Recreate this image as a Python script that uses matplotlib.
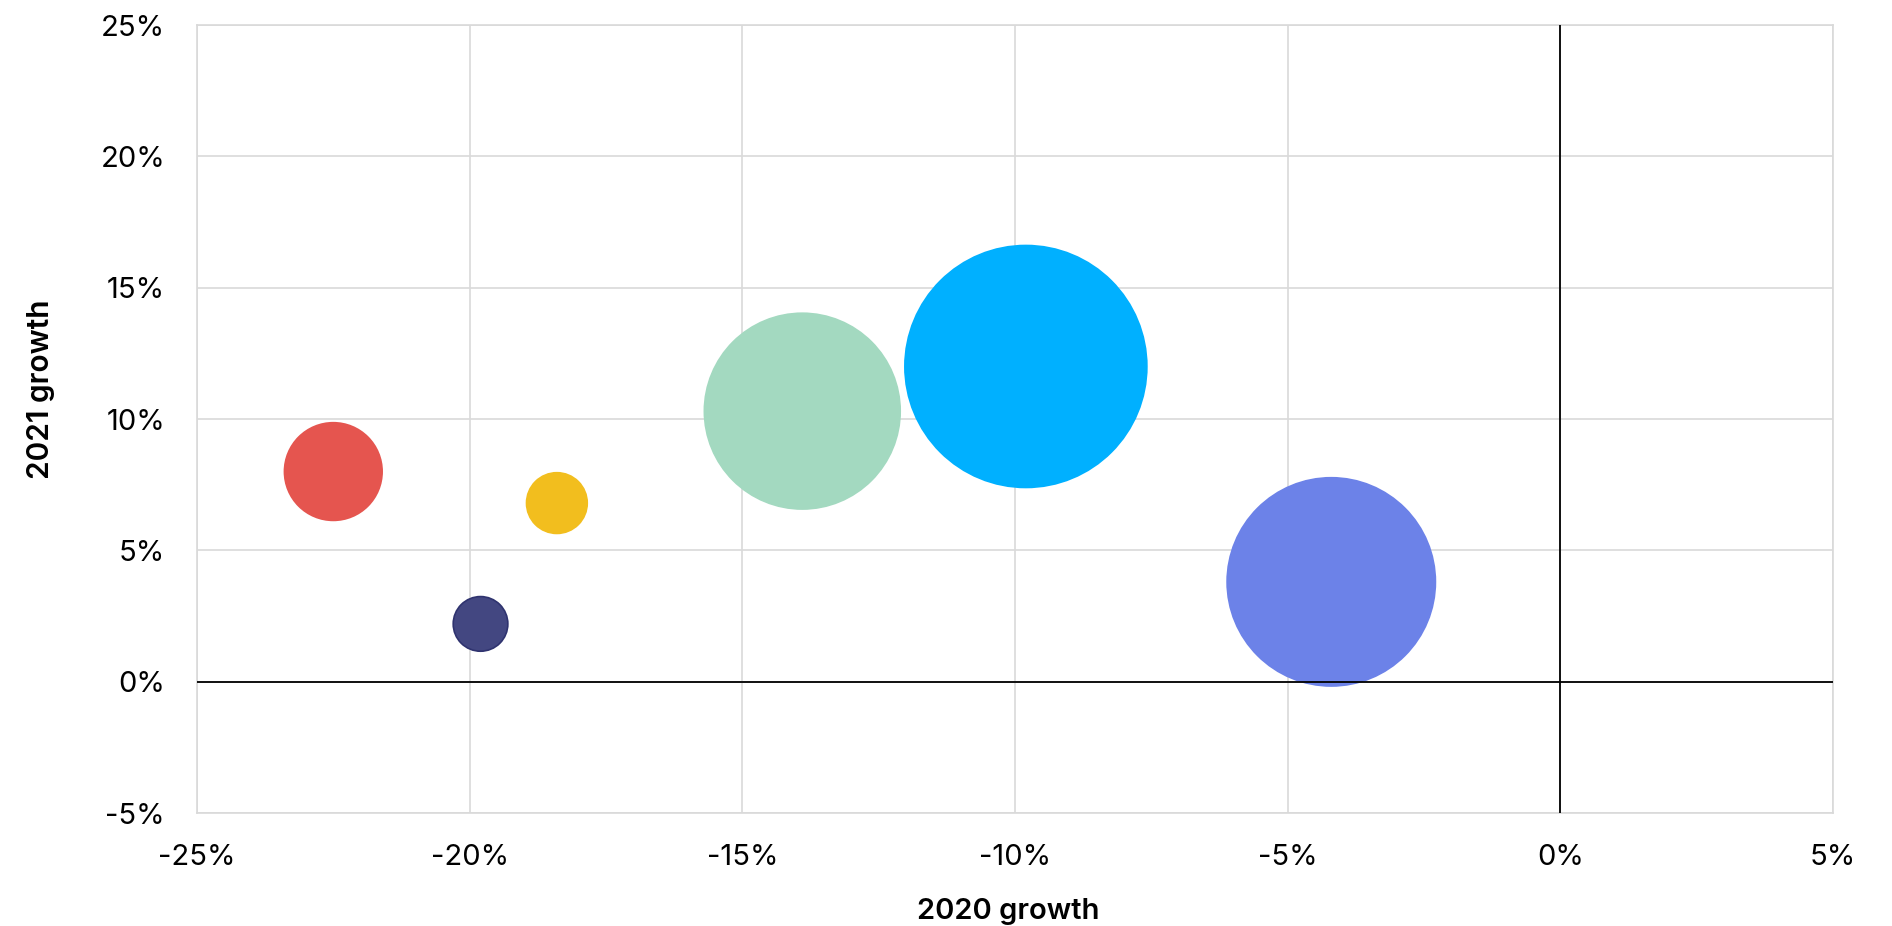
#!/usr/bin/env python3
import matplotlib
matplotlib.use('Agg')
import matplotlib.pyplot as plt
import numpy as np
from matplotlib.ticker import FuncFormatter, MultipleLocator

# growth in percent, bubble size relative to the largest one
growth_2020 = [-22.5, -19.8, -18.4, -13.9, -9.8, -4.2]
growth_2021 = [8.0, 2.2, 6.8, 10.3, 12.0, 3.8]
bubble_size = [16.3, 5.1, 6.3, 65.5, 100.0, 74.1]
colors = ['#E5554F', '#434781', '#F2BE1E', '#A3D9C0', '#00B0FF', '#6C82E8']
edges = ['#E5554F', '#2F336F', '#F2BE1E', '#A3D9C0', '#00B0FF', '#6C82E8']

x_ticks = [-25, -20, -15, -10, -5, 0, 5]
y_ticks = [-5, 0, 5, 10, 15, 20, 25]

plt.rcParams['axes.unicode_minus'] = False
tick_font = 'Inter'
title_font = 'Inter'

dpi = 100
fig = plt.figure(figsize=(18.92, 9.26), dpi=dpi)
ax = fig.add_axes([0.1041, 0.1220, 0.8647, 0.8510])

# largest bubble is ~242 px across
max_diam_pt = 242 * 72 / dpi
scale = max_diam_pt ** 2 / max(bubble_size)
s = np.array(bubble_size) * scale
ax.scatter(growth_2020, growth_2021, s=s, c=colors, edgecolors=edges,
           linewidths=1.2, zorder=2)

ax.set_xlim(x_ticks[0], x_ticks[-1])
ax.set_ylim(y_ticks[0], y_ticks[-1])
ax.xaxis.set_major_locator(MultipleLocator(5))
ax.yaxis.set_major_locator(MultipleLocator(5))
pct = FuncFormatter(lambda v, _: f'{v:.0f}%')
ax.xaxis.set_major_formatter(pct)
ax.yaxis.set_major_formatter(pct)

ax.grid(True, color='#d9d9d9', linewidth=1.2, zorder=0)
ax.set_axisbelow(True)
for sp in ax.spines.values():
    sp.set_color('#d9d9d9')
    sp.set_linewidth(1.2)
ax.axhline(0, color='black', linewidth=1.3, zorder=3)
ax.axvline(0, color='black', linewidth=1.3, zorder=3)

ax.tick_params(axis='both', length=0, labelsize=21, colors='black')
ax.tick_params(axis='x', pad=22)
ax.tick_params(axis='y', pad=23)
for lab in ax.get_xticklabels() + ax.get_yticklabels():
    lab.set_fontfamily(tick_font)

ax.set_xlabel('2020 growth', fontsize=21, fontfamily=title_font,
              fontweight='semibold')
ax.set_ylabel('2021 growth', fontsize=21.5, fontfamily=title_font,
              fontweight='semibold')
ax.xaxis.set_label_coords(0.496, -0.108)
ax.yaxis.set_label_coords(-0.087, 0.538)

fig.savefig('out.png', dpi=dpi)
